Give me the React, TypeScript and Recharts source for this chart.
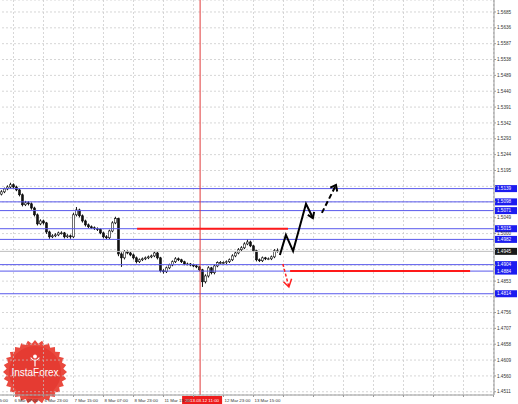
import React from "react";
import {
  ComposedChart,
  Bar,
  Line,
  XAxis,
  YAxis,
  CartesianGrid,
  ReferenceLine,
} from "recharts";

// H1 candles, oldest first
const opens = [
  1.5122, 1.5129, 1.5138, 1.5144, 1.5151, 1.5144, 1.5135, 1.512, 1.5089, 1.5095,
  1.5092, 1.5079, 1.5058, 1.503, 1.5039, 1.5033, 1.5005, 1.499, 1.4993, 1.4996,
  1.5002, 1.5002, 1.499, 1.4993, 1.499, 1.5058, 1.5073, 1.5055, 1.5039, 1.5027,
  1.5021, 1.5018, 1.5015, 1.5012, 1.5002, 1.499, 1.4987, 1.5008, 1.5033, 1.5046,
  1.4937, 1.4925, 1.4944, 1.494, 1.4934, 1.4925, 1.4913, 1.4919, 1.4922, 1.4925,
  1.4928, 1.4931, 1.494, 1.4925, 1.4885, 1.4882, 1.4894, 1.4903, 1.4913, 1.4922,
  1.4919, 1.4913, 1.4906, 1.4906, 1.4903, 1.49, 1.4897, 1.4888, 1.4851, 1.4869,
  1.4894, 1.4879, 1.49, 1.491, 1.491, 1.491, 1.4913, 1.4919, 1.4931, 1.494,
  1.495, 1.4956, 1.4968, 1.4974, 1.4962, 1.4947, 1.4919, 1.4916, 1.4925, 1.4922,
  1.4922, 1.4928, 1.4947,
];
const highs = [
  1.5134, 1.5142, 1.5149, 1.5157, 1.5155, 1.5148, 1.5139, 1.5124, 1.5101, 1.51,
  1.5096, 1.5083, 1.5062, 1.5044, 1.5043, 1.5036, 1.5009, 1.4998, 1.5001, 1.5006,
  1.5007, 1.5005, 1.4998, 1.4997, 1.5064, 1.5082, 1.5077, 1.5059, 1.5043, 1.5031,
  1.5025, 1.5022, 1.5019, 1.5016, 1.5006, 1.4995, 1.5012, 1.5038, 1.5052, 1.5049,
  1.4942, 1.4949, 1.4948, 1.4944, 1.4938, 1.4929, 1.4923, 1.4926, 1.4929, 1.4932,
  1.4935, 1.4945, 1.4943, 1.4928, 1.489, 1.4898, 1.4907, 1.4917, 1.4927, 1.4926,
  1.4922, 1.4916, 1.491, 1.4909, 1.4907, 1.4904, 1.49, 1.4891, 1.4874, 1.4899,
  1.4897, 1.4905, 1.4914, 1.4915, 1.4914, 1.4917, 1.4923, 1.4936, 1.4945, 1.4955,
  1.4961, 1.4973, 1.4983, 1.4978, 1.4965, 1.495, 1.4923, 1.4929, 1.4928, 1.4926,
  1.4932, 1.4952, 1.4954,
];
const lows = [
  1.5118, 1.5125, 1.5134, 1.514, 1.5139, 1.5131, 1.5115, 1.5084, 1.5085, 1.5087,
  1.5074, 1.5053, 1.5025, 1.5026, 1.5028, 1.4999, 1.4984, 1.4986, 1.4989, 1.4992,
  1.4997, 1.4985, 1.4986, 1.4984, 1.4986, 1.5053, 1.505, 1.5034, 1.5022, 1.5017,
  1.5014, 1.5011, 1.5008, 1.4998, 1.4985, 1.4983, 1.4983, 1.5004, 1.5029, 1.493,
  1.4897, 1.492, 1.4936, 1.493, 1.492, 1.4908, 1.4909, 1.4915, 1.4918, 1.4921,
  1.4924, 1.4927, 1.492, 1.488, 1.4876, 1.4878, 1.489, 1.4899, 1.4909, 1.4915,
  1.4909, 1.4902, 1.4902, 1.4899, 1.4896, 1.4893, 1.4884, 1.4835, 1.4846, 1.4864,
  1.4874, 1.4874, 1.4896, 1.4906, 1.4906, 1.4906, 1.4909, 1.4915, 1.4927, 1.4936,
  1.4946, 1.4952, 1.4964, 1.4958, 1.4943, 1.4914, 1.4912, 1.4912, 1.4918, 1.4918,
  1.4918, 1.4924, 1.4941,
];
const closes = [
  1.5129, 1.5138, 1.5144, 1.5151, 1.5144, 1.5135, 1.512, 1.5089, 1.5095, 1.5092,
  1.5079, 1.5058, 1.503, 1.5039, 1.5033, 1.5005, 1.499, 1.4993, 1.4996, 1.5002,
  1.5002, 1.499, 1.4993, 1.499, 1.5058, 1.5073, 1.5055, 1.5039, 1.5027, 1.5021,
  1.5018, 1.5015, 1.5012, 1.5002, 1.499, 1.4987, 1.5008, 1.5033, 1.5046, 1.4937,
  1.4925, 1.4944, 1.494, 1.4934, 1.4925, 1.4913, 1.4919, 1.4922, 1.4925, 1.4928,
  1.4931, 1.494, 1.4925, 1.4885, 1.4882, 1.4894, 1.4903, 1.4913, 1.4922, 1.4919,
  1.4913, 1.4906, 1.4906, 1.4903, 1.49, 1.4897, 1.4888, 1.4851, 1.4869, 1.4894,
  1.4879, 1.49, 1.491, 1.491, 1.491, 1.4913, 1.4919, 1.4931, 1.494, 1.495,
  1.4956, 1.4968, 1.4974, 1.4962, 1.4947, 1.4919, 1.4916, 1.4925, 1.4922, 1.4922,
  1.4928, 1.4947, 1.4945,
];

// time axis (bar index of each label; later ones are empty future grid)
const timeTicks = [-6, 4, 14, 24, 34, 44, 54, 64, 74, 84, 94, 104, 114, 124, 134, 144, 154, 164];
const timeLabels = [
  "5 Mar 15:00", "6 Mar 07:00", "6 Mar 23:00", "7 Mar 15:00", "8 Mar 07:00",
  "8 Mar 23:00", "11 Mar 15:00", "12 Mar 07:00", "12 Mar 23:00", "13 Mar 15:00",
];
const priceTicks = [
  1.5685, 1.5636, 1.5587, 1.5538, 1.5489, 1.544, 1.5391, 1.5342, 1.5293, 1.5244,
  1.5195, 1.5146, 1.5098, 1.5049, 1.5, 1.4951, 1.4902, 1.4853, 1.4805, 1.4756,
  1.4707, 1.4658, 1.4609, 1.456, 1.4511,
];

const blueLevels = [1.5139, 1.5098, 1.5071, 1.5015, 1.4982, 1.4904, 1.4884, 1.4814];
const bidPrice = 1.4945;
const redLevels = [
  { from: 45.2, to: 95.5, price: 1.5015 },
  { from: 96.2, to: 156.2, price: 1.4884 },
];
const markerIndex = 66.2;
const markerLabel = "2013.03.12 11:00";

// forecast arrows
const bullPath = [
  { i: 92.8, p: 1.4934 },
  { i: 94.8, p: 1.4996 },
  { i: 97.2, p: 1.4946 },
  { i: 101.5, p: 1.5092 },
  { i: 103.8, p: 1.5048 },
];
const bullPathHead = [
  { i: 104.2, p: 1.5067 },
  { i: 103.8, p: 1.5048 },
  { i: 102.1, p: 1.5058 },
];
const bullDash = [
  { i: 106.8, p: 1.5064 },
  { i: 111.5, p: 1.515 },
];
const bullDashHead = [
  { i: 109.6, p: 1.5142 },
  { i: 111.5, p: 1.515 },
  { i: 111.9, p: 1.513 },
];
const bearDash = [
  { i: 93.8, p: 1.4906 },
  { i: 95.8, p: 1.4835 },
];
const bearDashHead = [
  { i: 96.7, p: 1.486 },
  { i: 95.8, p: 1.4835 },
  { i: 94.0, p: 1.4851 },
];

const candles = closes.map((c, i) => ({
  i,
  o: opens[i],
  h: highs[i],
  l: lows[i],
  c,
  range: [lows[i], highs[i]],
}));

const FONT = "'Liberation Sans', Arial, sans-serif";
const BLUE = "#5a5aec";

const Candle = (props: any) => {
  const { x, y, width, height, payload } = props;
  const { o, h, l, c } = payload;
  const span = h - l || 1e-9;
  const py = (v: number) => y + ((h - v) / span) * height;
  const cx = x + width / 2;
  const top = py(Math.max(o, c));
  const bot = py(Math.min(o, c));
  const bull = c >= o;
  return (
    <g>
      <line x1={cx} x2={cx} y1={y} y2={y + height} stroke="#111" strokeWidth={1} />
      <rect
        x={cx - 1}
        y={top}
        width={2}
        height={Math.max(bot - top, 0.8)}
        fill={bull ? "#fff" : "#111"}
        stroke="#111"
        strokeWidth={0.6}
      />
    </g>
  );
};

const near = (v: number, list: number[], tol: number) => list.some((b) => Math.abs(b - v) < tol);

const PriceTick = (props: any) => {
  const { x, y, payload } = props;
  if (near(payload.value, [...blueLevels, bidPrice], 0.001)) return null;
  return (
    <text x={x} y={y} dy={1.6} fontSize={4.6} fontFamily={FONT} fill="#333" textAnchor="start">
      {payload.value.toFixed(4)}
    </text>
  );
};

const TimeTick = (props: any) => {
  const { x, y, payload } = props;
  const k = timeTicks.indexOf(payload.value);
  const text = timeLabels[k];
  if (!text || Math.abs(payload.value - markerIndex) < 6) return null;
  return (
    <text x={x + 1} y={y} dy={4} fontSize={4.4} fontFamily={FONT} fill="#333" textAnchor="start">
      {text}
    </text>
  );
};

const priceTag = (value: number, color: string) => (p: any) => {
  const vb = p.viewBox;
  const right = vb.x + vb.width;
  return (
    <g>
      <rect x={right + 1} y={vb.y - 3.5} width={22} height={7} fill={color} />
      <text x={right + 3} y={vb.y + 1.6} fontSize={4.6} fontFamily={FONT} fill="#fff">
        {value.toFixed(4)}
      </text>
    </g>
  );
};

const markerTag = (p: any) => {
  const vb = p.viewBox;
  const bottom = vb.y + vb.height;
  return (
    <g>
      <rect x={vb.x - 18} y={bottom + 1} width={40} height={9} fill="#ee1c1c" />
      <text x={vb.x + 2} y={bottom + 7} fontSize={4.4} fontFamily={FONT} fill="#fff" textAnchor="middle">
        {markerLabel}
      </text>
    </g>
  );
};

const Logo = () => {
  const cx = 35;
  const cy = 372;
  const pts: string[] = [];
  const n = 28;
  for (let k = 0; k < n * 2; k++) {
    const r = k % 2 === 0 ? 32 : 28.5;
    const a = (Math.PI * k) / n;
    pts.push(`${cx + r * Math.cos(a)},${cy + r * Math.sin(a)}`);
  }
  return (
    <svg width={518} height={404} style={{ position: "absolute", left: 0, top: 0 }}>
      <polygon points={pts.join(" ")} fill="#ea4a3f" />
      <circle cx={cx} cy={cy} r={26} fill="#e53b32" />
      <g stroke="#fff" strokeWidth={1.2} fill="none" strokeLinecap="round">
        <path d={`M${cx - 4},${cy - 14} Q${cx},${cy - 9} ${cx + 4},${cy - 14}`} />
        <path d={`M${cx},${cy - 12} L${cx},${cy - 6}`} />
        <circle cx={cx} cy={cy - 15.5} r={1.3} fill="#fff" />
      </g>
      <text x={cx} y={cy + 4} fontSize={10} fontFamily={FONT} fill="#fff" textAnchor="middle">
        InstaForex
      </text>
    </svg>
  );
};

export default function App() {
  return (
    <div style={{ position: "absolute", left: 0, top: 0, width: 518, height: 404, background: "#fff", overflow: "hidden" }}>
      <Logo />
      <div style={{ position: "absolute", left: 0, top: 0 }}>
        <ComposedChart
          width={518}
          height={404}
          data={candles}
          margin={{ top: 0, right: 0, bottom: 0, left: -18 }}
        >
          <CartesianGrid stroke="#c4c4c4" strokeDasharray="2 2" strokeWidth={0.7} />
          <XAxis
            type="number"
            dataKey="i"
            domain={[-6.5, 164.17]}
            ticks={timeTicks}
            allowDataOverflow
            height={9}
            axisLine={{ stroke: "#9a9a9a" }}
            tickLine={{ stroke: "#9a9a9a" }}
            tickSize={2}
            tickMargin={1}
            tick={<TimeTick />}
            interval={0}
          />
          <YAxis
            type="number"
            orientation="right"
            domain={[1.4501, 1.5722]}
            ticks={priceTicks}
            allowDataOverflow
            width={24}
            axisLine={{ stroke: "#9a9a9a" }}
            tickLine={{ stroke: "#9a9a9a" }}
            tickSize={2}
            tickMargin={1}
            tick={<PriceTick />}
            interval={0}
          />
          {blueLevels.map((v) => (
            <ReferenceLine key={v} y={v} stroke={BLUE} strokeWidth={1} label={priceTag(v, "#1c1cf0")} />
          ))}
          <ReferenceLine y={bidPrice} stroke="#bdbdbd" strokeWidth={1} label={priceTag(bidPrice, "#1a1a1a")} />
          <ReferenceLine x={markerIndex} stroke="#e03a3a" strokeWidth={1} label={markerTag} />
          {redLevels.map((r) => (
            <ReferenceLine
              key={r.price}
              segment={[
                { x: r.from, y: r.price },
                { x: r.to, y: r.price },
              ]}
              stroke="#ff1a1a"
              strokeWidth={2}
            />
          ))}
          <Bar dataKey="range" barSize={2} shape={<Candle />} isAnimationActive={false} />
          <Line data={bullPath} dataKey="p" stroke="#000" strokeWidth={2} dot={false} activeDot={false} isAnimationActive={false} />
          <Line data={bullPathHead} dataKey="p" stroke="#000" strokeWidth={2} dot={false} activeDot={false} isAnimationActive={false} />
          <Line data={bullDash} dataKey="p" stroke="#000" strokeWidth={2} strokeDasharray="5 3" dot={false} activeDot={false} isAnimationActive={false} />
          <Line data={bullDashHead} dataKey="p" stroke="#000" strokeWidth={2} dot={false} activeDot={false} isAnimationActive={false} />
          <Line data={bearDash} dataKey="p" stroke="#ff2020" strokeWidth={1.5} strokeDasharray="3 2" dot={false} activeDot={false} isAnimationActive={false} />
          <Line data={bearDashHead} dataKey="p" stroke="#ff2020" strokeWidth={1.5} dot={false} activeDot={false} isAnimationActive={false} />
        </ComposedChart>
      </div>
    </div>
  );
}
